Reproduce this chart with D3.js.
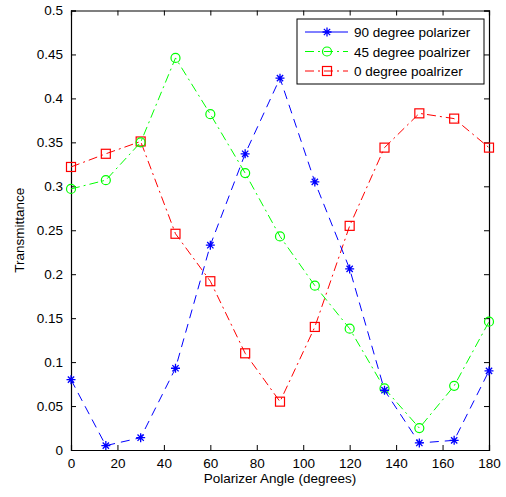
<!DOCTYPE html>
<html>
<head>
<meta charset="utf-8">
<script src="https://cdn.jsdelivr.net/npm/d3@7"></script>
<style>
  body { margin: 0; background: #fff; }
  text { font-family: "Liberation Sans", Arial, sans-serif; }
</style>
</head>
<body>
<div id="chart"></div>
<script>
// angles (degrees)
var angles = [0, 15, 30, 45, 60, 75, 90, 105, 120, 135, 150, 165, 180];
// transmittance per polarizer
var pol90 = [0.08, 0.005, 0.014, 0.093, 0.233, 0.337, 0.423, 0.305, 0.206, 0.068, 0.008, 0.011, 0.09];
var pol45 = [0.297, 0.307, 0.35, 0.446, 0.382, 0.315, 0.243, 0.187, 0.138, 0.07, 0.025, 0.073, 0.146];
var pol0 = [0.322, 0.337, 0.351, 0.246, 0.192, 0.11, 0.055, 0.14, 0.255, 0.344, 0.383, 0.377, 0.344];
var seriesNames = ["90 degree polarizer", "45 degree poalrizer", "0 degree poalrizer"];
var xTicks = [0, 20, 40, 60, 80, 100, 120, 140, 160, 180];
var yTicks = [0, 0.05, 0.1, 0.15, 0.2, 0.25, 0.3, 0.35, 0.4, 0.45, 0.5];

var width = 506, height = 497;
var margin = { top: 10.5, right: 17, bottom: 47, left: 71 };
var w = width - margin.left - margin.right,
    h = height - margin.top - margin.bottom;

var svg = d3.select("#chart").append("svg")
    .attr("width", width)
    .attr("height", height);

var g = svg.append("g")
    .attr("transform", "translate(" + margin.left + "," + margin.top + ")");

var x = d3.scaleLinear().domain([0, 180]).range([0, w]);
var y = d3.scaleLinear().domain([0, 0.5]).range([h, 0]);

var series = [
    { name: seriesNames[0], values: pol90, color: "#0000ff", dash: "9,6", marker: "star" },
    { name: seriesNames[1], values: pol45, color: "#00ff00", dash: "9,4,2,4", marker: "circle" },
    { name: seriesNames[2], values: pol0, color: "#ff0000", dash: "9,4,2,4", marker: "square" }
];

// axes with inward ticks
var tickLen = 5;
var fmt = function (d) { return d3.format("")(+d.toFixed(2)); };

var xAxis = g.append("g").attr("transform", "translate(0," + h + ")")
    .call(d3.axisBottom(x).tickValues(xTicks).tickSize(-tickLen).tickPadding(8));
var xAxisTop = g.append("g")
    .call(d3.axisTop(x).tickValues(xTicks).tickSize(-tickLen).tickFormat(""));
var yAxis = g.append("g")
    .call(d3.axisLeft(y).tickValues(yTicks).tickSize(-tickLen).tickPadding(8).tickFormat(fmt));
var yAxisRight = g.append("g").attr("transform", "translate(" + w + ",0)")
    .call(d3.axisRight(y).tickValues(yTicks).tickSize(-tickLen).tickFormat(""));

[xAxis, xAxisTop, yAxis, yAxisRight].forEach(function (a) {
    a.select(".domain").attr("stroke", "#000").attr("stroke-width", 1.2);
    a.selectAll(".tick line").attr("stroke", "#000");
    a.selectAll(".tick text").attr("font-size", 13.5).attr("fill", "#000")
        .style("font-family", "'Liberation Sans', Arial, sans-serif");
});

var line = d3.line()
    .x(function (d, i) { return x(angles[i]); })
    .y(function (d) { return y(d); });

function drawMarker(sel, type, color) {
    if (type === "star") {
        var s = 4.5;
        sel.append("path")
            .attr("d", "M" + (-s) + ",0H" + s + "M0," + (-s) + "V" + s +
                "M" + (-s * 0.7) + "," + (-s * 0.7) + "L" + (s * 0.7) + "," + (s * 0.7) +
                "M" + (-s * 0.7) + "," + (s * 0.7) + "L" + (s * 0.7) + "," + (-s * 0.7))
            .attr("stroke", color).attr("stroke-width", 1.3).attr("fill", "none");
    } else if (type === "circle") {
        sel.append("circle").attr("r", 4.5)
            .attr("stroke", color).attr("stroke-width", 1.2).attr("fill", "none");
    } else {
        sel.append("rect").attr("x", -4.5).attr("y", -4.5).attr("width", 9).attr("height", 9)
            .attr("stroke", color).attr("stroke-width", 1.2).attr("fill", "none");
    }
}

// draw series in reverse so blue on top
series.slice().reverse().forEach(function (s) {
    g.append("path")
        .datum(s.values)
        .attr("d", line)
        .attr("fill", "none")
        .attr("stroke", s.color)
        .attr("stroke-width", 1)
        .attr("stroke-dasharray", s.dash);

    g.selectAll(null)
        .data(s.values)
        .enter().append("g")
        .attr("transform", function (d, i) { return "translate(" + x(angles[i]) + "," + y(d) + ")"; })
        .each(function () { drawMarker(d3.select(this), s.marker, s.color); });
});

// legend
var lx = 297 - margin.left, ly = 19 - margin.top;
var legend = g.append("g").attr("transform", "translate(" + lx + "," + ly + ")");
legend.append("rect")
    .attr("width", 187).attr("height", 65)
    .attr("fill", "#fff").attr("stroke", "#000").attr("stroke-width", 1);

series.forEach(function (s, i) {
    var row = legend.append("g").attr("transform", "translate(0," + (13 + i * 19.5) + ")");
    row.append("line")
        .attr("x1", 8).attr("x2", 51).attr("y1", 0).attr("y2", 0)
        .attr("stroke", s.color).attr("stroke-width", 1)
        .attr("stroke-dasharray", s.marker === "star" ? null : "9,4,2,4");
    var m = row.append("g").attr("transform", "translate(30,0)");
    drawMarker(m, s.marker, s.color);
    row.append("text")
        .attr("x", 57).attr("y", 5)
        .attr("font-size", 13.5)
        .attr("fill", "#000")
        .text(s.name);
});

// axis labels
svg.append("text")
    .attr("x", margin.left + w / 2)
    .attr("y", 483)
    .attr("text-anchor", "middle")
    .attr("font-size", 13.5)
    .text("Polarizer Angle (degrees)");

svg.append("text")
    .attr("transform", "translate(24," + (margin.top + h / 2) + ") rotate(-90)")
    .attr("text-anchor", "middle")
    .attr("font-size", 13.5)
    .text("Transmittance");
</script>
</body>
</html>
